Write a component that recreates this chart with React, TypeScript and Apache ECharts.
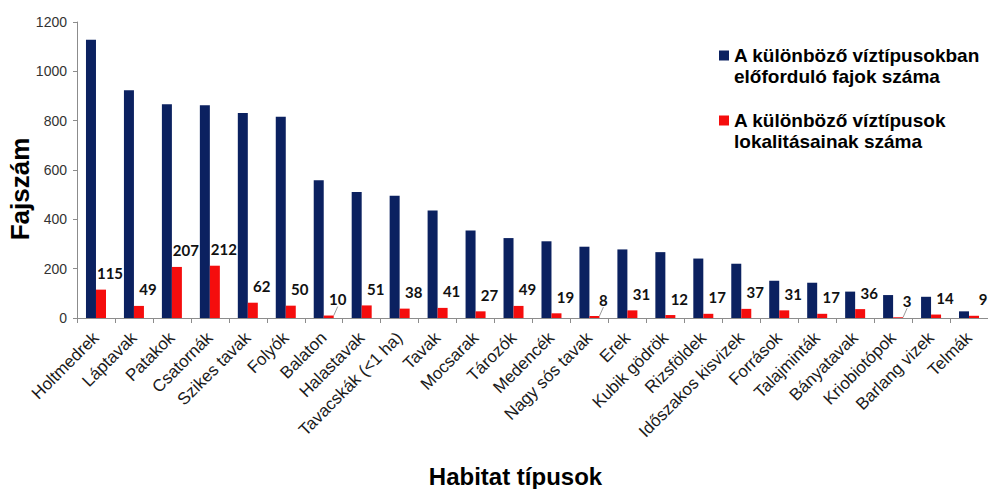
import React, { useEffect, useRef } from "react";
import * as echarts from "echarts";

// Habitat types, ordered by species count
const habitats = [
  "Holtmedrek", "Láptavak", "Patakok", "Csatornák", "Szikes tavak", "Folyók",
  "Balaton", "Halastavak", "Tavacskák (<1 ha)", "Tavak", "Mocsarak", "Tározók",
  "Medencék", "Nagy sós tavak", "Erek", "Kubik gödrök", "Rizsföldek",
  "Időszakos kisvizek", "Források", "Talajminták", "Bányatavak", "Kriobiotópok",
  "Barlang vizek", "Telmák",
];

// Number of species found in each water type
const speciesCounts = [
  1128, 923, 867, 863, 831, 816, 558, 511, 496, 436, 355, 324,
  311, 289, 278, 267, 241, 220, 151, 143, 107, 93, 86, 27,
];

// Number of sampled localities of each water type
const localityCounts = [
  115, 49, 207, 212, 62, 50, 10, 51, 38, 41, 27, 49,
  19, 8, 31, 12, 17, 37, 31, 17, 36, 3, 14, 9,
];

const yTicks = [0, 200, 400, 600, 800, 1000, 1200];

// Tiny bars whose value label gets a guide line
const guidedLabels = ["Balaton", "Nagy sós tavak", "Kriobiotópok"];

const seriesNames = [
  "A különböző víztípusokban\nelőforduló fajok száma",
  "A különböző víztípusok\nlokalitásainak száma",
];

export default function App() {
  const ref = useRef<HTMLDivElement>(null);

  useEffect(() => {
    if (!ref.current) return;
    const chart = echarts.init(ref.current, null, { renderer: "svg" });
    const axisColor = "#8c8c8c";
    const sans = "'Liberation Sans', Arial, sans-serif";

    chart.setOption({
      animation: false,
      backgroundColor: "#ffffff",
      grid: {
        left: 77,
        right: 0,
        top: 22,
        bottom: 171,
        containLabel: false,
        outerBoundsMode: "none",
      },
      legend: {
        orient: "vertical",
        left: 719,
        top: 24,
        padding: 0,
        itemGap: 2,
        itemWidth: 10,
        itemHeight: 10,
        icon: "rect",
        selectedMode: false,
        // a blank leading line keeps the marker level with the first text line
        formatter: (name: string) => "\n" + name,
        textStyle: {
          fontFamily: sans,
          fontWeight: "bold",
          fontSize: 19,
          lineHeight: 21,
          color: "#000",
        },
        data: seriesNames,
      },
      xAxis: {
        type: "category",
        data: habitats,
        name: "Habitat típusok",
        nameLocation: "middle",
        nameGap: 146,
        nameMoveOverlap: false,
        nameTextStyle: {
          fontFamily: sans,
          fontWeight: "bold",
          fontSize: 24,
          color: "#000",
          padding: [0, 34, 0, 0],
        },
        axisLine: { show: true, lineStyle: { color: axisColor, width: 1 } },
        axisTick: { show: true, length: 5, lineStyle: { color: axisColor } },
        axisLabel: {
          interval: 0,
          rotate: 45,
          margin: 17,
          fontFamily: sans,
          fontSize: 17,
          color: "#1a1a1a",
        },
        splitLine: { show: false },
      },
      yAxis: {
        type: "value",
        min: yTicks[0],
        max: yTicks[yTicks.length - 1],
        interval: yTicks[1] - yTicks[0],
        name: "Fajszám",
        nameLocation: "middle",
        nameRotate: 90,
        nameGap: 44,
        nameMoveOverlap: false,
        nameTextStyle: {
          fontFamily: sans,
          fontWeight: "bold",
          fontSize: 26,
          color: "#000",
          padding: [0, 38, 0, 0],
        },
        axisLine: { show: true, lineStyle: { color: axisColor, width: 1 } },
        axisTick: { show: true, length: 4, lineStyle: { color: axisColor } },
        axisLabel: {
          margin: 10,
          fontFamily: sans,
          fontSize: 14,
          color: "#333",
          formatter: (v: number) => String(v),
        },
        splitLine: { show: false },
      },
      series: [
        {
          name: seriesNames[0],
          type: "bar",
          data: speciesCounts,
          barWidth: 10,
          barGap: "0%",
          itemStyle: { color: "#0b2160" },
        },
        {
          name: seriesNames[1],
          type: "bar",
          data: localityCounts.map((v, i) => ({
            value: v,
            labelLine: { show: guidedLabels.includes(habitats[i]) },
          })),
          barWidth: 10,
          barGap: "0%",
          itemStyle: { color: "#f50d0d" },
          label: {
            show: true,
            position: "top",
            distance: 5,
            fontFamily: "Lato, 'Noto Sans', sans-serif",
            fontWeight: "bold",
            fontSize: 15,
            color: "#111",
          },
          labelLayout: { dx: 9, dy: -4 },
          labelLine: { lineStyle: { color: "#9a9a9a", width: 1 } },
        },
      ],
    });

    return () => chart.dispose();
  }, []);

  return (
    <div
      ref={ref}
      style={{ position: "fixed", left: 0, top: 0, width: 988, height: 489 }}
    />
  );
}
